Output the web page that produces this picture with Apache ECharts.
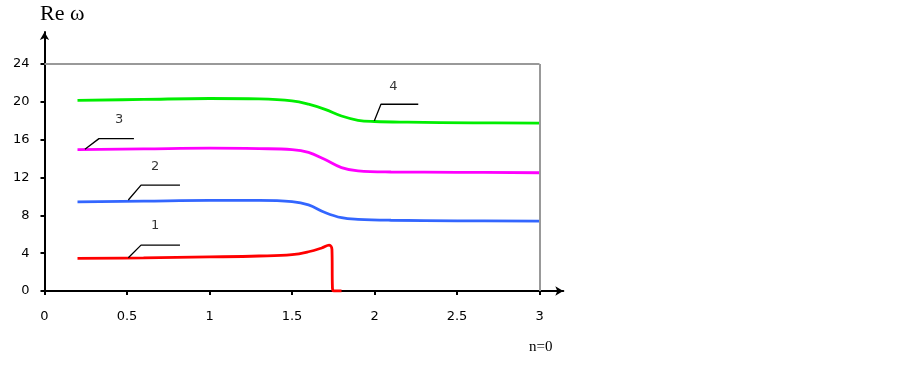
<!DOCTYPE html>
<html>
<head>
<meta charset="utf-8">
<script src="https://cdn.jsdelivr.net/npm/echarts@6/dist/echarts.min.js"></script>
<style>
  html, body { margin: 0; padding: 0; background: #fff; }
  #chart { width: 902px; height: 369px; }
</style>
</head>
<body>
<div id="chart"></div>
<script>
// tick labels
const xTicks = [0, 0.5, 1, 1.5, 2, 2.5, 3];
const yTicks = [0, 4, 8, 12, 16, 20, 24];

// curves: [n, Re w]
const curve1 = [[0.2, 3.45], [0.6, 3.5], [1.0, 3.6], [1.3, 3.7], [1.5, 3.85], [1.6, 4.15], [1.68, 4.55], [1.725, 4.85], [1.742, 4.4], [1.745, 0.3], [1.755, 0], [1.8, 0]];
const curve2 = [[0.2, 9.42], [0.6, 9.5], [1.0, 9.58], [1.3, 9.58], [1.5, 9.45], [1.6, 9.1], [1.7, 8.3], [1.8, 7.75], [1.9, 7.58], [2.1, 7.48], [2.5, 7.42], [3.0, 7.38]];
const curve3 = [[0.2, 14.95], [0.6, 15.02], [1.0, 15.1], [1.3, 15.05], [1.5, 14.95], [1.6, 14.65], [1.7, 13.9], [1.8, 13.05], [1.9, 12.7], [2.1, 12.58], [2.5, 12.55], [3.0, 12.5]];
const curve4 = [[0.2, 20.15], [0.6, 20.25], [1.0, 20.35], [1.3, 20.3], [1.5, 20.1], [1.6, 19.75], [1.7, 19.2], [1.8, 18.5], [1.9, 18.05], [2.0, 17.92], [2.2, 17.85], [2.6, 17.78], [3.0, 17.75]];

// leader lines and their numbers
const leader1 = [[0.508, 3.52], [0.585, 4.85], [0.821, 4.85]];
const leader2 = [[0.508, 9.62], [0.585, 11.2], [0.821, 11.2]];
const leader3 = [[0.245, 14.98], [0.33, 16.11], [0.542, 16.11]];
const leader4 = [[1.999, 18.0], [2.039, 19.74], [2.265, 19.74]];
const leaderText = [['1', 0.67, 6.95], ['2', 0.67, 13.1], ['3', 0.452, 18.15], ['4', 2.114, 21.6]];

const colors = ['#ff0000', '#3366ff', '#ff00ff', '#00ee00'];
const curves = [curve1, curve2, curve3, curve4];
const leaders = [leader1, leader2, leader3, leader4];

let chart = echarts.init(document.getElementById('chart'), null, { renderer: 'canvas' });

let series = [];
curves.forEach((c, i) => {
    series.push({
        type: 'line',
        data: c,
        smooth: 0.4,
        showSymbol: false,
        lineStyle: { color: colors[i], width: 2.8 },
        z: 3
    });
});
leaders.forEach((l) => {
    series.push({
        type: 'line',
        data: l,
        showSymbol: false,
        lineStyle: { color: '#000', width: 1.3 },
        z: 4
    });
});
// numbers next to leaders
series.push({
    type: 'scatter',
    symbolSize: 0,
    data: leaderText.map(t => ({ name: t[0], value: [t[1], t[2]] })),
    label: {
        show: true,
        position: 'inside',
        formatter: '{b}',
        color: '#000',
        fontFamily: 'DejaVu Sans',
        fontSize: 13
    }
});
// grey frame (top and right side of plot box)
series[0].markLine = {
    silent: true,
    symbol: 'none',
    label: { show: false },
    lineStyle: { color: '#999', width: 2, type: 'solid' },
    data: [
        [{ coord: [0, 24] }, { coord: [3, 24] }],
        [{ coord: [3, 0] }, { coord: [3, 24] }]
    ]
};

let option = {
    animation: false,
    backgroundColor: '#fff',
    grid: { left: 44.5, right: 338.7, top: 32, bottom: 78 },
    xAxis: {
        type: 'value',
        min: 0,
        max: 3.144,
        splitLine: { show: false },
        axisLine: { lineStyle: { color: '#000', width: 2 }, symbol: ['none', 'arrow'], symbolSize: [7, 8] },
        axisTick: { length: 4, lineStyle: { color: '#000', width: 2 }, customValues: xTicks },
        axisLabel: { customValues: xTicks, margin: 19, color: '#000', fontFamily: 'DejaVu Sans', fontSize: 13 }
    },
    yAxis: {
        type: 'value',
        min: 0,
        max: 27.38,
        splitLine: { show: false },
        axisLine: { lineStyle: { color: '#000', width: 2 }, symbol: ['none', 'arrow'], symbolSize: [7, 8] },
        axisTick: { length: 4, lineStyle: { color: '#000', width: 2 }, customValues: yTicks },
        axisLabel: { customValues: yTicks, margin: 15, color: '#000', fontFamily: 'DejaVu Sans', fontSize: 13 }
    },
    graphic: [
        { type: 'text', left: 40, top: 3, style: { text: 'Re ω', font: '22px "Liberation Serif"', fill: '#000' } },
        { type: 'text', left: 529, top: 340, style: { text: 'n=0', font: '15px "Liberation Serif"', fill: '#000' } }
    ],
    series: series
};

chart.setOption(option);
</script>
</body>
</html>
